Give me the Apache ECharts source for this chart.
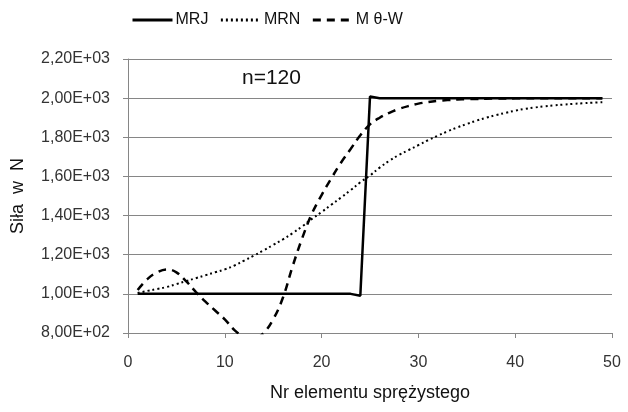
<!DOCTYPE html>
<html>
<head>
<meta charset="utf-8">
<script src="https://cdn.jsdelivr.net/npm/echarts@6/dist/echarts.min.js"></script>
<style>
html,body{margin:0;padding:0;background:#fff;}
#chart{width:628px;height:412px;}
</style>
</head>
<body>
<div id="chart"></div>
<script>
var elements = [];
for (var i = 1; i <= 49; i++) elements.push(i);

var mrj = [1000,1000,1000,1000,1000,1000,1000,1000,1000,1000,
           1000,1000,1000,1000,1000,1000,1000,1000,1000,1000,
           1000,1000,1000,990,2008,2000,2000,2000,2000,2000,
           2000,2000,2000,2000,2000,2000,2000,2000,2000,2000,
           2000,2000,2000,2000,2000,2000,2000,2000,2000];

var mrn = [1005,1015,1025,1035,1050,1065,1080,1095,1110,1125,
           1145,1170,1195,1222,1250,1278,1310,1345,1383,1418,
           1455,1492,1530,1570,1605,1645,1680,1710,1735,1760,
           1785,1808,1830,1850,1868,1885,1900,1913,1925,1936,
           1945,1952,1958,1963,1967,1971,1974,1977,1979];

var mtw = [1020,1075,1110,1125,1110,1065,1010,960,915,870,
           815,780,770,800,870,980,1140,1285,1410,1505,
           1590,1670,1740,1810,1866,1900,1925,1945,1960,1972,
           1980,1986,1990,1993,1995,1996,1997,1998,1998,1999,
           1999,2000,2000,2000,2000,2000,2000,2000,2000];

var seriesNames = ['MRJ', 'MRN', 'M \u03b8-W'];
var xAxisName = 'Nr elementu spr\u0119\u017cystego';
var yAxisName = 'Si\u0142a  w  N';
var note = 'n=120';

function pairs(ys) { return elements.map(function (x, i) { return [x, ys[i]]; }); }

function sci(v) {
  var e = Math.floor(Math.log10(v) + 1e-9);
  var m = v / Math.pow(10, e);
  return m.toFixed(2).replace('.', ',') + 'E+' + (e < 10 ? '0' + e : e);
}

var chart = echarts.init(document.getElementById('chart'));
var font = 'Liberation Sans, Arial, sans-serif';
chart.setOption({
  animation: false,
  backgroundColor: '#ffffff',
  textStyle: { fontFamily: font },
  legend: {
    top: 7, left: 126,
    itemWidth: 40, itemHeight: 14, itemGap: 11,
    itemStyle: { opacity: 0 },
    lineStyle: { width: 3 },
    textStyle: { fontSize: 16, color: '#111', fontFamily: font, padding: [0, 0, 0, -2] },
    data: seriesNames
  },
  graphic: [{
    type: 'text', left: 242, top: 68,
    style: { text: note, fontSize: 21, fill: '#111', fontFamily: font }
  }],
  grid: { left: 128, right: 16, top: 59, bottom: 79 },
  xAxis: {
    type: 'value', min: 0, max: 50, interval: 10,
    name: xAxisName, nameLocation: 'middle', nameGap: 51,
    nameTextStyle: { fontSize: 18, color: '#111' },
    axisLine: { lineStyle: { color: '#868686' } },
    axisTick: { show: true, length: 5, lineStyle: { color: '#868686' } },
    axisLabel: { fontSize: 16, color: '#333', margin: 22 },
    splitLine: { show: false }
  },
  yAxis: {
    type: 'value', min: 800, max: 2200, interval: 200,
    name: yAxisName, nameLocation: 'middle', nameGap: 101, nameRotate: 90,
    nameTextStyle: { fontSize: 18, color: '#111' },
    axisLine: { show: true, lineStyle: { color: '#868686' } },
    axisTick: { show: true, length: 5, lineStyle: { color: '#868686' } },
    axisLabel: { fontSize: 16, color: '#333', margin: 18, formatter: sci },
    splitLine: { lineStyle: { color: '#868686' } }
  },
  series: [
    { name: seriesNames[0], type: 'line', data: pairs(mrj), showSymbol: false, symbol: 'none',
      lineStyle: { color: '#000', width: 2.5, type: 'solid' }, itemStyle: { color: '#000' } },
    { name: seriesNames[1], type: 'line', data: pairs(mrn), showSymbol: false, symbol: 'none', smooth: 0.4,
      lineStyle: { color: '#000', width: 2, type: [2, 3] }, itemStyle: { color: '#000' } },
    { name: seriesNames[2], type: 'line', data: pairs(mtw), showSymbol: false, symbol: 'none', smooth: 0.4,
      lineStyle: { color: '#000', width: 2.5, type: [8, 6] }, itemStyle: { color: '#000' } }
  ]
});
</script>
</body>
</html>
